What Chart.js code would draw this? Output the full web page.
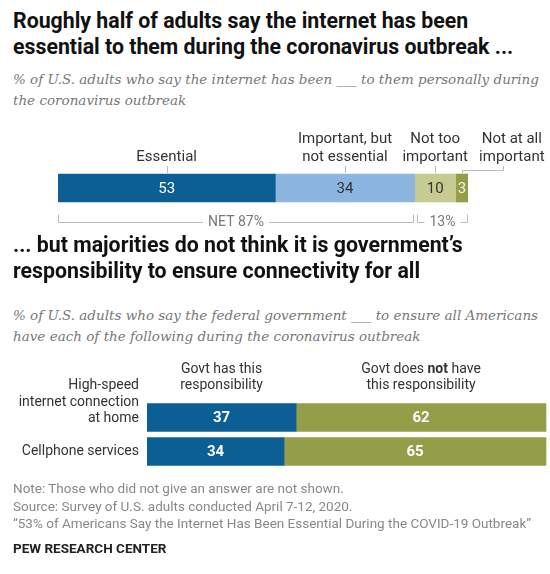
<!DOCTYPE html>
<html>
<head>
<meta charset="utf-8">
<script src="https://cdn.jsdelivr.net/npm/chart.js@4"></script>
<style>
  body { margin: 0; background: #fff; width: 550px; height: 574px; position: relative; overflow: hidden; }
  .t { position: absolute; left: 13px; margin: 0; white-space: nowrap; }
  .title { font-family: Roboto, sans-serif; font-weight: 700; font-size: 21.3px; line-height: 26px; color: #111; }
  .sub { font-family: "DejaVu Serif", serif; font-style: italic; font-size: 13.5px; line-height: 20.5px; color: #777; }
  .foot { font-family: Roboto, sans-serif; font-size: 13.5px; line-height: 17.5px; color: #888; }
  .brand { font-family: Roboto, sans-serif; font-weight: 700; font-size: 13.5px; color: #222; }
  .box { position: absolute; left: 0; width: 550px; }
</style>
</head>
<body>
<div class="t title" style="top:8px">Roughly half of adults say the internet has been<br>essential to them during the coronavirus outbreak ...</div>
<div class="t sub" style="top:69px">% of U.S. adults who say the internet has been ___ to them personally during<br>the coronavirus outbreak</div>
<div class="box" style="top:120px;height:120px"><canvas id="topChart"></canvas></div>
<div class="t title" style="top:232px">... but majorities do not think it is government’s<br>responsibility to ensure connectivity for all</div>
<div class="t sub" style="top:305px">% of U.S. adults who say the federal government ___ to ensure all Americans<br>have each of the following during the coronavirus outbreak</div>
<div class="box" style="top:355px;height:130px"><canvas id="govChart"></canvas></div>
<div class="t foot" style="top:480px">Note: Those who did not give an answer are not shown.<br>Source: Survey of U.S. adults conducted April 7-12, 2020.<br>“53% of Americans Say the Internet Has Been Essential During the COVID-19 Outbreak”</div>
<div class="t brand" style="top:540px">PEW RESEARCH CENTER</div>

<script>
// データ（上のグラフ）
const topCategories = ['Essential', 'Important, but not essential', 'Not too important', 'Not at all important'];
const topLabelLines = [['Essential'], ['Important, but', 'not essential'], ['Not too', 'important'], ['Not at all', 'important']];
const topValues = [53, 34, 10, 3];
const netGroups = [{ label: 'NET 87%', from: 0, to: 87 }, { label: '13%', from: 87, to: 100 }];

// データ（下のグラフ）
const rowLabels = [['High-speed', 'internet connection', 'at home'], ['Cellphone services']];
const govHas = [37, 34];
const govNot = [62, 65];
const govHeaders = [['Govt has this', 'responsibility'], ['Govt does |not| have', 'this responsibility']];

const topColors = ['#0b5f94', '#8cb5df', '#c6cc91', '#949d48'];
const topTextColors = ['#fff', '#333', '#333', '#f4f4e0'];
const FONT = 'Roboto, sans-serif';

// 上のグラフの文字とブラケット
const topLabels = {
    id: 'topLabels',
    afterDatasetsDraw(chart) {
        const ctx = chart.ctx;
        const xs = chart.scales.x;
        ctx.save();
        ctx.textAlign = 'center';
        ctx.textBaseline = 'middle';
        chart.data.datasets.forEach((ds, i) => {
            const bar = chart.getDatasetMeta(i).data[0];
            const cx = (bar.x + bar.base) / 2;
            const top = bar.y - bar.height / 2;
            ctx.font = '15px ' + FONT;
            ctx.fillStyle = topTextColors[i];
            ctx.fillText(ds.data[0], cx, bar.y + 1);

            // カテゴリ名（最後のものは右にずらして線でつなぐ）
            const lines = topLabelLines[i];
            let lx = cx;
            ctx.strokeStyle = '#bbb';
            ctx.lineWidth = 1;
            ctx.beginPath();
            if (i === topLabelLines.length - 1) {
                lx = cx + 50;
                ctx.moveTo(Math.round(cx) + 0.5, top - 1);
                ctx.lineTo(Math.round(cx) + 0.5, top - 3.5);
                ctx.lineTo(Math.round(lx - 9) + 0.5, top - 3.5);
                ctx.lineTo(Math.round(lx - 9) + 0.5, top - 8);
            } else {
                ctx.moveTo(Math.round(cx) + 0.5, top - 1);
                ctx.lineTo(Math.round(cx) + 0.5, top - 8);
            }
            ctx.stroke();
            ctx.font = '15px ' + FONT;
            ctx.fillStyle = '#333';
            lines.forEach((ln, k) => {
                ctx.fillText(ln, lx, top - 17 - (lines.length - 1 - k) * 18);
            });
        });

        // NET ブラケット
        const yLine = Math.round(chart.chartArea.bottom + 14) + 0.5;
        ctx.font = '14px ' + FONT;
        netGroups.forEach((g, i) => {
            const x0 = Math.round(xs.getPixelForValue(g.from)) + (i === 0 ? 0.5 : 2.5);
            const x1 = Math.round(xs.getPixelForValue(g.to)) - (i === 0 ? 1.5 : 0.5);
            const mid = (x0 + x1) / 2;
            const w = ctx.measureText(g.label).width / 2 + 5;
            ctx.strokeStyle = '#bbb';
            ctx.beginPath();
            ctx.moveTo(x0, yLine - 8);
            ctx.lineTo(x0, yLine);
            ctx.lineTo(mid - w, yLine);
            ctx.moveTo(mid + w, yLine);
            ctx.lineTo(x1, yLine);
            ctx.lineTo(x1, yLine - 8);
            ctx.stroke();
            ctx.fillStyle = '#777';
            ctx.fillText(g.label, mid, yLine);
        });
        ctx.restore();
    }
};

// 下のグラフの文字
const govLabels = {
    id: 'govLabels',
    afterDatasetsDraw(chart) {
        const ctx = chart.ctx;
        const ys = chart.scales.y;
        ctx.save();
        ctx.textBaseline = 'middle';
        ctx.font = '14px ' + FONT;

        // 行ラベル
        ctx.textAlign = 'right';
        ctx.fillStyle = '#333';
        rowLabels.forEach((lines, r) => {
            const cy = ys.getPixelForValue(r);
            const last = cy + (lines.length > 1 ? 1 : 0);
            lines.forEach((ln, k) => {
                ctx.fillText(ln, chart.chartArea.left - 8, last - (lines.length - 1 - k) * 16.5);
            });
        });

        // 値と見出し
        ctx.textAlign = 'center';
        chart.data.datasets.forEach((ds, i) => {
            const meta = chart.getDatasetMeta(i);
            meta.data.forEach((bar, r) => {
                ctx.font = 'bold 15px ' + FONT;
                ctx.fillStyle = '#fff';
                ctx.fillText(ds.data[r], (bar.x + bar.base) / 2, bar.y + 1);
            });
            const b0 = meta.data[0];
            const cx = (b0.x + b0.base) / 2;
            const top = b0.y - b0.height / 2;
            const lines = govHeaders[i];
            lines.forEach((ln, k) => {
                const y = top - 18 - (lines.length - 1 - k) * 16;
                const parts = ln.split('|');
                const fonts = parts.map((p, j) => (j % 2 ? 'bold ' : '') + '14px ' + FONT);
                let total = 0;
                parts.forEach((p, j) => { ctx.font = fonts[j]; total += ctx.measureText(p).width; });
                let x = cx - total / 2;
                ctx.textAlign = 'left';
                ctx.fillStyle = '#333';
                parts.forEach((p, j) => {
                    ctx.font = fonts[j];
                    ctx.fillText(p, x, y);
                    x += ctx.measureText(p).width;
                });
                ctx.textAlign = 'center';
            });
        });
        ctx.restore();
    }
};

window.addEventListener('DOMContentLoaded', () => {
    new Chart(document.getElementById('topChart'), {
        type: 'bar',
        data: {
            labels: [''],
            datasets: topCategories.map((c, i) => ({
                label: c,
                data: [topValues[i]],
                backgroundColor: topColors[i],
                barThickness: 28
            }))
        },
        options: {
            indexAxis: 'y',
            responsive: true,
            maintainAspectRatio: false,
            animation: false,
            layout: { padding: { left: 58, right: 82, top: 48, bottom: 32 } },
            scales: {
                x: { stacked: true, min: 0, max: 100, display: false },
                y: { stacked: true, display: false }
            },
            plugins: { legend: { display: false }, tooltip: { enabled: false } }
        },
        plugins: [topLabels]
    });

    new Chart(document.getElementById('govChart'), {
        type: 'bar',
        data: {
            labels: rowLabels.map(l => l.join(' ')),
            datasets: [
                { label: 'Govt has this responsibility', data: govHas, backgroundColor: '#0b5f94', barThickness: 28 },
                { label: 'Govt does not have this responsibility', data: govNot, backgroundColor: '#949d48', barThickness: 28 }
            ]
        },
        options: {
            indexAxis: 'y',
            responsive: true,
            maintainAspectRatio: false,
            animation: false,
            layout: { padding: { left: 147, right: 0, top: 45.5, bottom: 16.5 } },
            scales: {
                x: { stacked: true, min: 0, max: 100, display: false },
                y: { stacked: true, display: false }
            },
            plugins: { legend: { display: false }, tooltip: { enabled: false } }
        },
        plugins: [govLabels]
    });
});
</script>
</body>
</html>
